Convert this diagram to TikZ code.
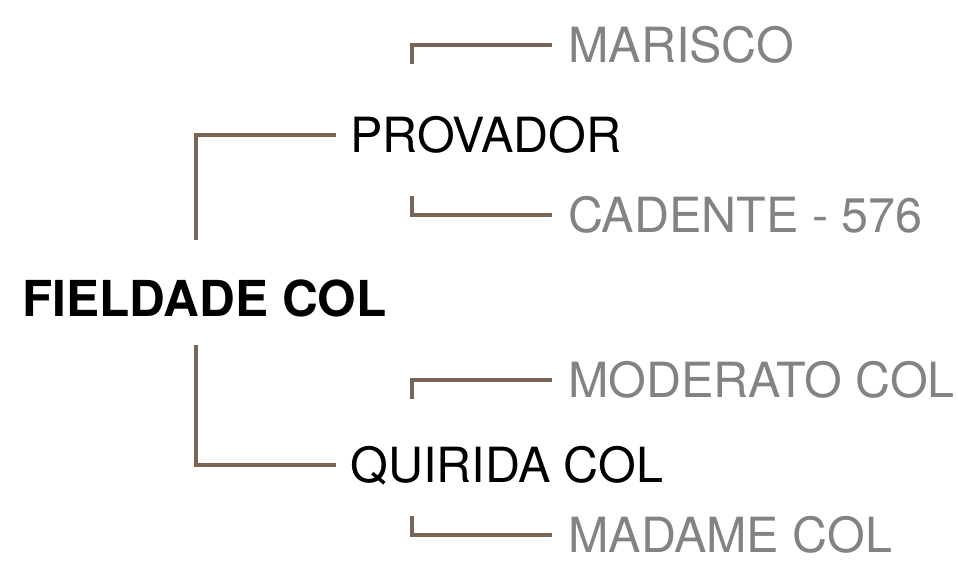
\documentclass[tikz,border=0pt]{standalone}
\usepackage{fontspec}
\setmainfont{TeX Gyre Heros}
\definecolor{branchbrown}{HTML}{7A6455}
\definecolor{leafgray}{HTML}{838383}
\tikzset{
  branch/.style={draw=branchbrown, line width=1.8pt},
  rootname/.style={anchor=west, inner xsep=0pt, inner ysep=0pt, text height=20pt, text depth=0pt,
    font=\fontsize{28.2}{33}\selectfont\bfseries},
  midname/.style={anchor=west, inner xsep=0.28cm, inner ysep=0pt, text height=20pt, text depth=0pt,
    font=\fontsize{27.6}{33}\selectfont},
  leafname/.style={midname, inner xsep=0.32cm, text=leafgray}
}
\begin{document}
\begin{tikzpicture}[x=0.02cm,y=-0.02cm]
    % page size of the reference
    \useasboundingbox (0,0) rectangle (958,570);

    % the root of the tree
    \node[rootname] (fieldade) at (22,299) {FIELDADE COL};

    % first level
    \node[midname] (provador) at (336,135) {PROVADOR};
    \node[midname] (quirida) at (336,465) {QUIRIDA COL};

    % second level
    \node[leafname] (marisco) at (552,45) {MARISCO};
    \node[leafname] (cadente) at (552,215) {CADENTE - 576};
    \node[leafname] (moderato) at (552,380) {MODERATO COL};
    \node[leafname] (madame) at (552,535) {MADAME COL};

    % free ends of the connectors
    \coordinate (rootup) at (196,240);
    \coordinate (rootdown) at (196,345);
    \coordinate (provup) at (412,64);
    \coordinate (provdown) at (412,196);
    \coordinate (quirup) at (412,399);
    \coordinate (quirdown) at (412,516);

    % connectors
    \draw[branch] (rootup) |- (provador.west);
    \draw[branch] (rootdown) |- (quirida.west);
    \draw[branch] (provup) |- (marisco.west);
    \draw[branch] (provdown) |- (cadente.west);
    \draw[branch] (quirup) |- (moderato.west);
    \draw[branch] (quirdown) |- (madame.west);
\end{tikzpicture}
\end{document}
